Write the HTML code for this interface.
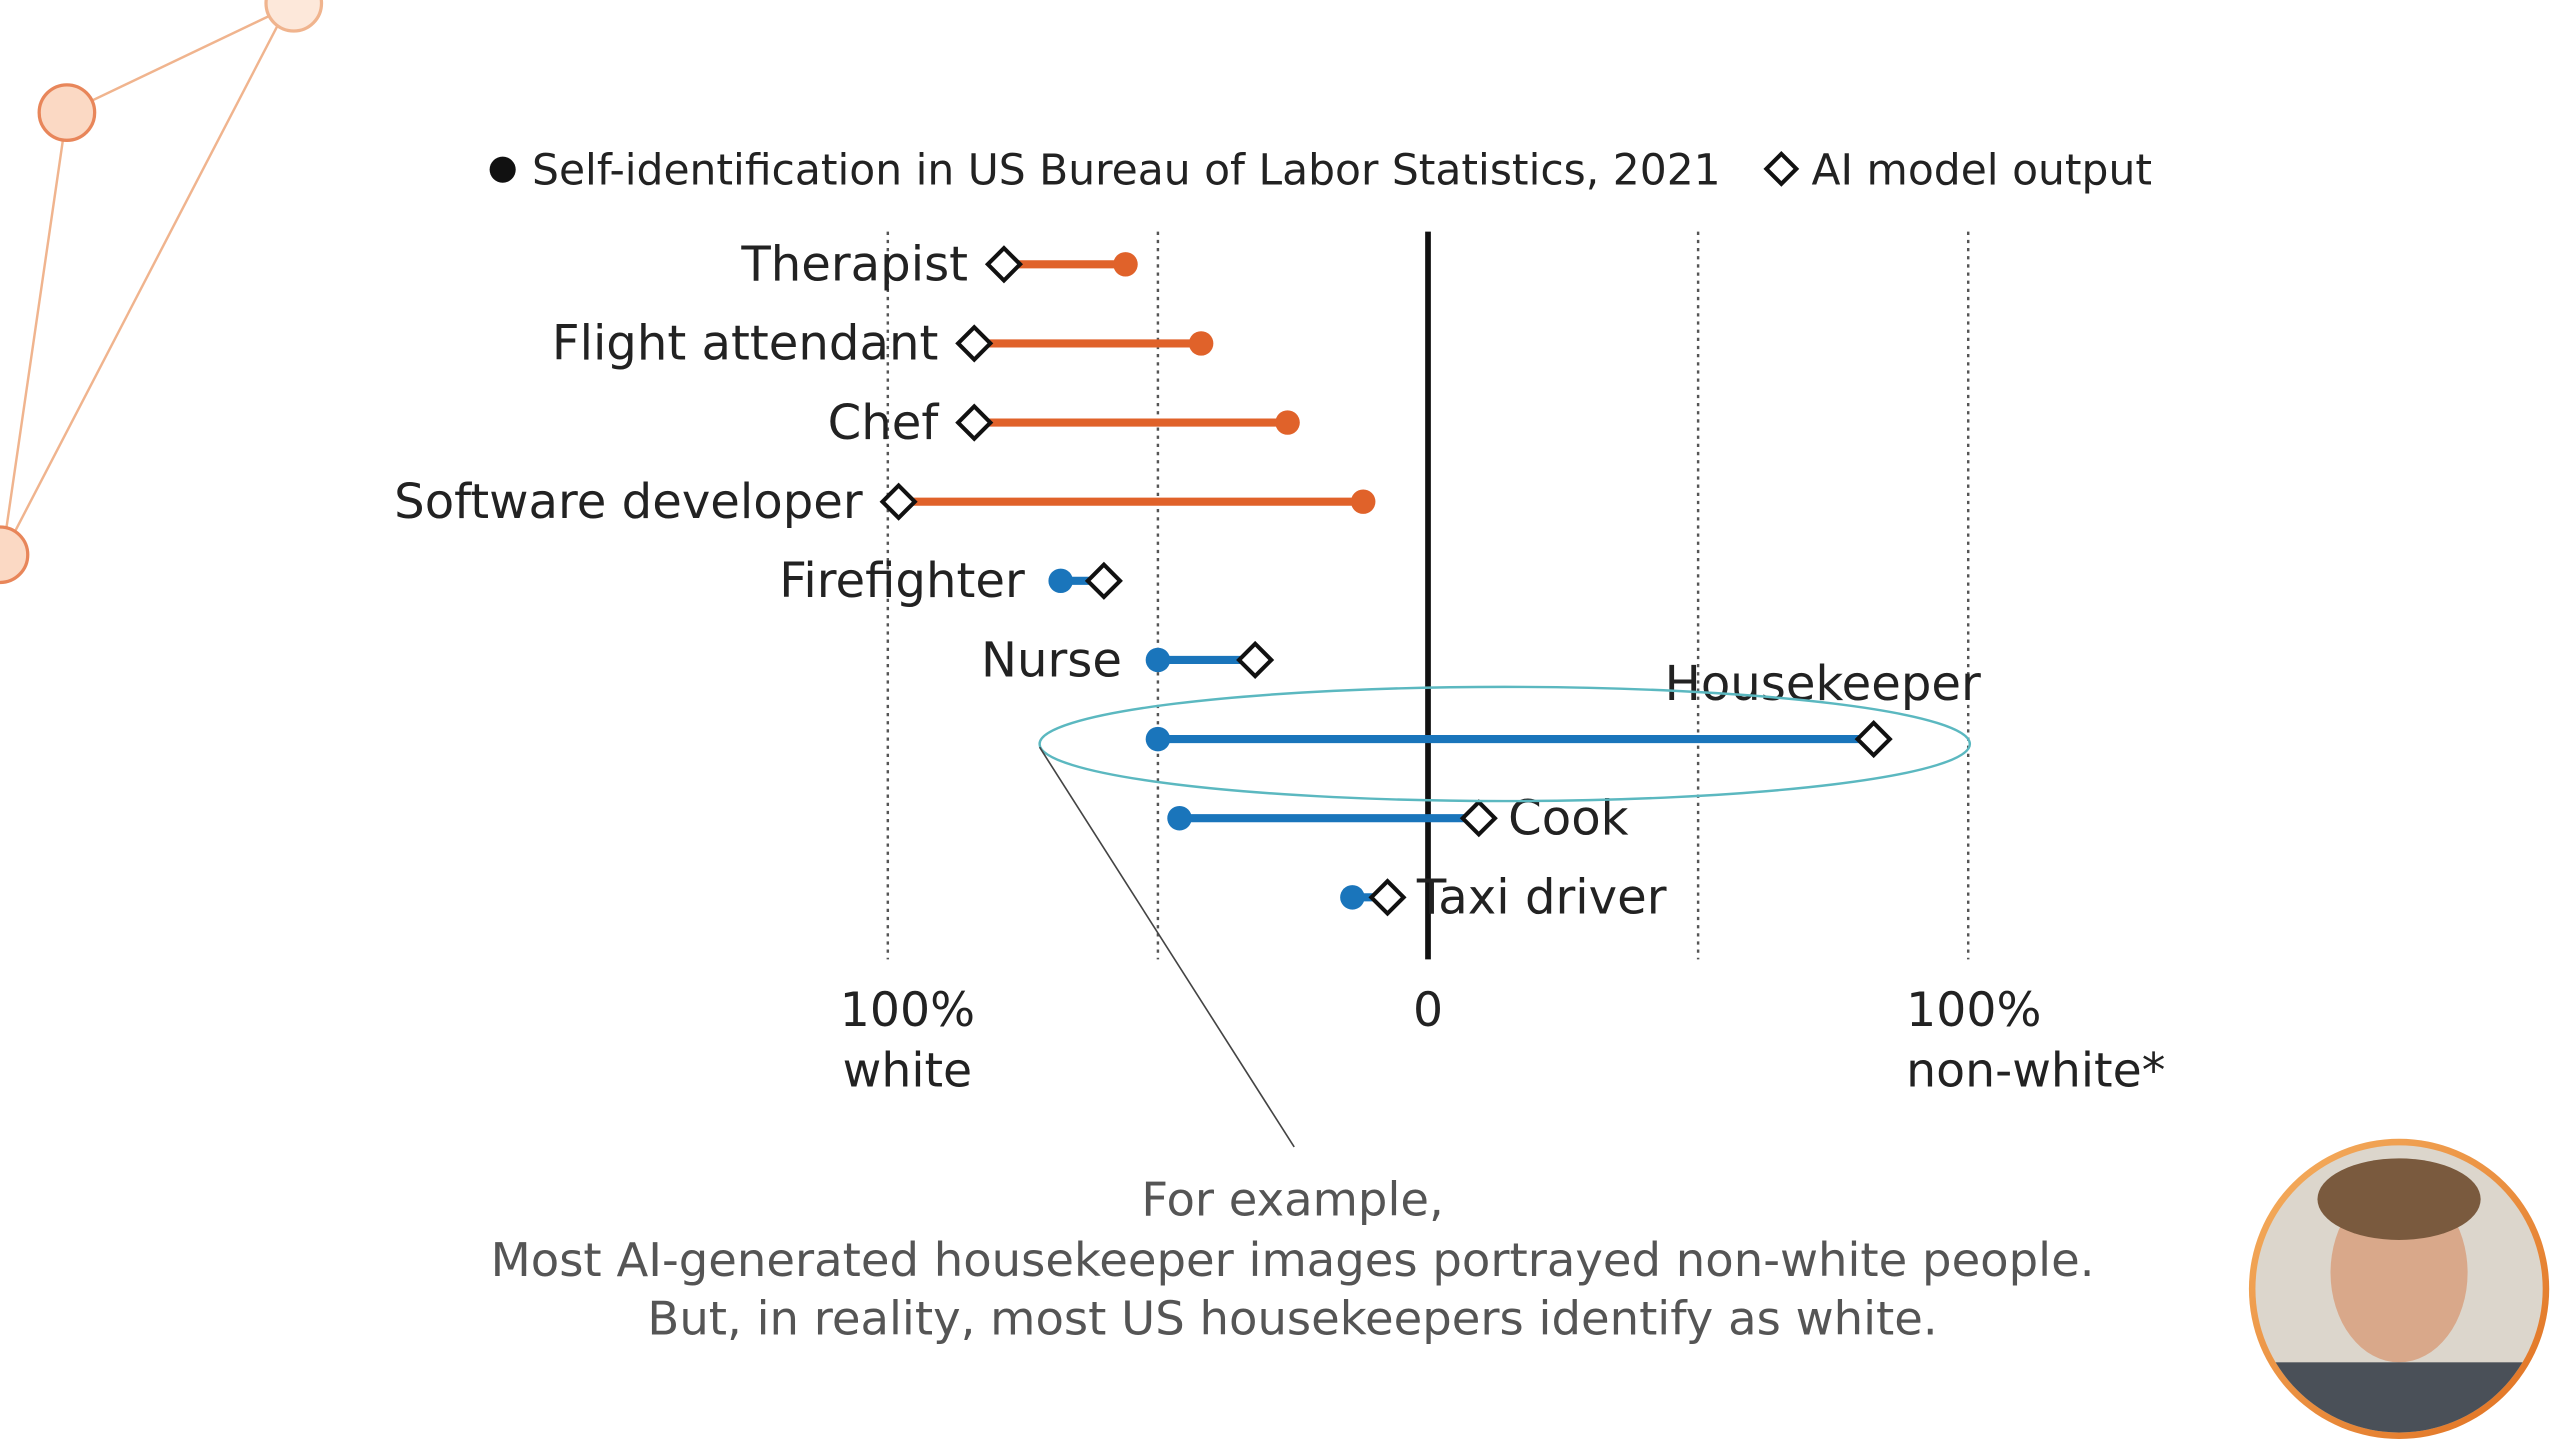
<!DOCTYPE html>
<html><head><meta charset="utf-8"><style>
html,body{margin:0;padding:0;background:#fff;}
svg{display:block;font-family:"DejaVu Sans","Liberation Sans",sans-serif;}
</style></head><body>
<svg id="chart" width="2559" height="1439" viewBox="0 0 1568 882" preserveAspectRatio="none" xmlns="http://www.w3.org/2000/svg">
<g stroke="#f0b48e" stroke-width="1.5" fill="none">
<line x1="41" y1="69" x2="175" y2="5"/><line x1="41" y1="69" x2="3" y2="330"/><line x1="172" y1="12" x2="8" y2="328"/>
<circle cx="41" cy="69" r="17" fill="#fbd9c4" stroke="#e8865a" stroke-width="2"/>
<circle cx="180" cy="2" r="17" fill="#fde8da" stroke="#f0b48e" stroke-width="2"/>
<circle cx="0" cy="340" r="17" fill="#fbd9c4" stroke="#e8865a" stroke-width="2"/>
</g>
<g font-size="26" fill="#222">
<circle cx="308" cy="104" r="8" fill="#111"/>
<text x="326" y="113">Self-identification in US Bureau of Labor Statistics, 2021</text>
<rect x="1085" y="97" width="13" height="13" transform="rotate(45 1091.5 103.5)" fill="#fff" stroke="#111" stroke-width="2.5"/>
<text x="1110" y="113">AI model output</text>
</g>
<g id="grid"></g>
<g id="marks"></g>
<g font-size="29" fill="#222">
<text x="556" y="629" text-anchor="middle">100%</text><text x="556" y="666" text-anchor="middle">white</text>
<text x="875" y="629" text-anchor="middle">0</text>
<text x="1168" y="629">100%</text><text x="1168" y="666">non-white*</text>
</g>
<ellipse cx="922" cy="456" rx="285" ry="35" fill="none" stroke="#5bb8c0" stroke-width="1.5"/>
<line x1="637" y1="458" x2="793" y2="703" stroke="#444" stroke-width="1"/>
<g font-size="28.5" fill="#555" text-anchor="middle">
<text x="792" y="745">For example,</text>
<text x="792" y="782">Most AI-generated housekeeper images portrayed non-white people.</text>
<text x="792" y="818">But, in reality, most US housekeepers identify as white.</text>
</g>
<g>
<defs><clipPath id="cam"><circle cx="1470" cy="790" r="88"/></clipPath>
<linearGradient id="ring" x1="0" y1="0" x2="1" y2="1"><stop offset="0" stop-color="#f5b061"/><stop offset="1" stop-color="#e07020"/></linearGradient></defs>
<circle cx="1470" cy="790" r="92" fill="url(#ring)"/>
<g clip-path="url(#cam)">
<rect x="1370" y="690" width="200" height="200" fill="#dcd6cc"/>
<ellipse cx="1470" cy="780" rx="42" ry="55" fill="#d9a88a"/>
<ellipse cx="1470" cy="735" rx="50" ry="25" fill="#7a5a3e"/>
<rect x="1390" y="835" width="160" height="60" fill="#4a5058"/>
</g>
</g>
<script>
const categories=["Therapist","Flight attendant","Chef","Software developer","Firefighter","Nurse","Housekeeper","Cook","Taxi driver"];
const blsValues=[-56,-42,-26,-12,-68,-50,-50,-46,-14];
const aiValues=[-78.5,-84,-84,-98,-60,-32,82.5,9.4,-7.5];
const seriesColor=["o","o","o","o","b","b","b","b","b"];
const gridTicks=[-100,-50,0,50,100];
const NS="http://www.w3.org/2000/svg";
function xs(v){return 875+v*3.31;}
function ys(i){return 162+i*48.5;}
function mk(t,a,p){const e=document.createElementNS(NS,t);for(const k in a)e.setAttribute(k,a[k]);p.appendChild(e);return e;}
const grid=document.getElementById('grid');
gridTicks.forEach(t=>{
 const l=mk('line',{x1:xs(t),x2:xs(t),y1:142,y2:588,stroke:t===0?'#111':'#555','stroke-width':t===0?3.5:1.5,'stroke-dasharray':t===0?'none':'2 3'},grid);
 
 
});
const marks=document.getElementById('marks');
categories.forEach((c,i)=>{
 const col=seriesColor[i]==="o"?"#e0622a":"#1a75bb";
 const y=ys(i),a=xs(blsValues[i]),b=xs(aiValues[i]);
 const ln=mk('line',{x1:a,x2:b,y1:y,y2:y,stroke:col,'stroke-width':5},marks);
 
 
 const d=mk('circle',{cx:a,cy:y,r:7.5,fill:col},marks);
 
 
 const s=mk('rect',{x:b-7,y:y-7,width:14,height:14,fill:'#fff',stroke:'#111','stroke-width':2.5,transform:`rotate(45 ${b} ${y})`},marks);
 
 
 let tx,anchor,ty=y+10;
 if(c==="Housekeeper"){tx=1020;anchor='start';ty=y-24;}
 else if(seriesColor[i]==="b"&&aiValues[i]>-20&&blsValues[i]>-60&&c!=="Nurse"){tx=Math.max(a,b)+18;anchor='start';}
 else{tx=Math.min(a,b)-22;anchor='end';}
 const t=mk('text',{x:tx,y:ty,'text-anchor':anchor,'font-size':29.5,fill:'#222'},marks);
 t.textContent=c;
 
 
});
</script>
</svg>
</body></html>
